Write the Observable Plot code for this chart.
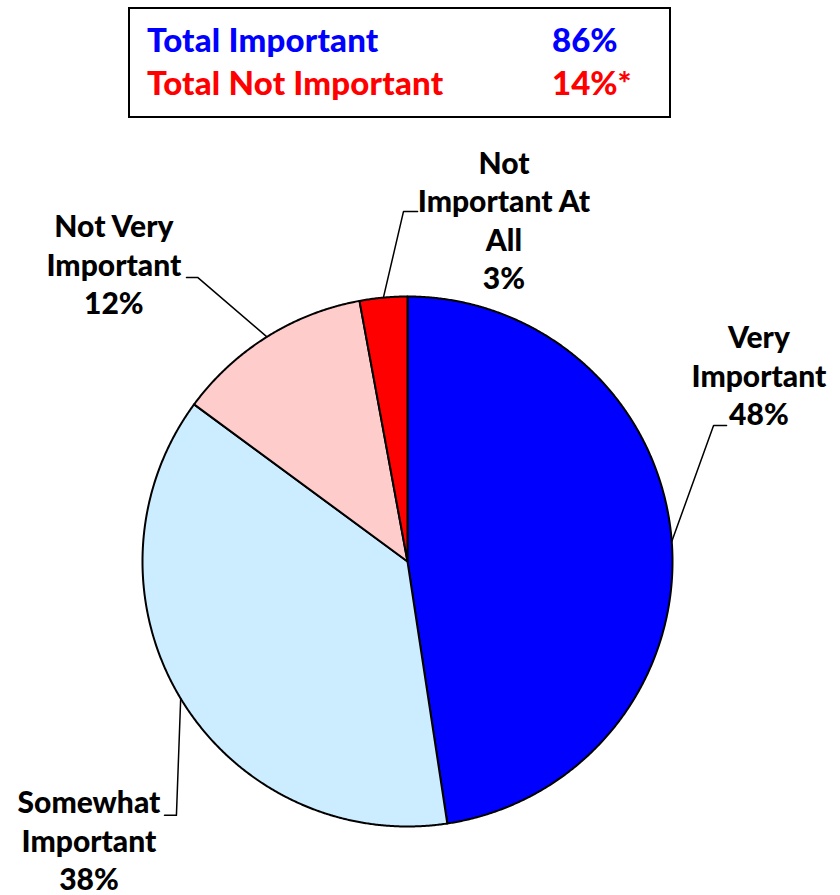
<!DOCTYPE html>
<html>
<head>
<meta charset="utf-8">
<script src="https://cdn.jsdelivr.net/npm/d3@7"></script>
<script src="https://cdn.jsdelivr.net/npm/@observablehq/plot@0.6"></script>
<style>
  html, body { margin: 0; padding: 0; background: #fff; }
  #wrap { position: relative; width: 840px; height: 895px; font-family: Lato, "Open Sans", sans-serif; }
  #legend { position: absolute; left: 128px; top: 7px; width: 543px; height: 111px; box-sizing: border-box;
            border: 2px solid #000; font-weight: 900; font-size: 33px; }
  #legend .row { position: absolute; left: 17px; white-space: nowrap; line-height: 1; letter-spacing: 0.2px; }
  #legend .val { position: absolute; left: 422px; white-space: nowrap; line-height: 1; }
  #chart { position: absolute; left: 0; top: 125px; }
</style>
</head>
<body>
<div id="wrap">
  <div id="legend"></div>
  <div id="chart"></div>
</div>
<script>
// ---- data ----
const categories = ["Very Important", "Somewhat Important", "Not Very Important", "Not Important At All"];
const values = [47.6, 37.5, 12.0, 2.9];
const labelLines = [["Very", "Important"], ["Somewhat", "Important"], ["Not Very", "Important"], ["Not", "Important At", "All"]];
const legendLabels = ["Total Important", "Total Not Important"];
const legendValues = ["86%", "14%*"];

// ---- styles / layout (kept apart from data) ----
const sliceColors = ["#0000FF", "#CCECFF", "#FFCCCC", "#FF0000"];
const legendColors = ["#0000FF", "#FF0000"];
const W = 840, H = 770, R = 265, CX = 407, CY = 436; // pixel layout of pie
// label anchors in pie-radius units: [centerX, firstBaselineY]
const labelAnchor = [[1.326, 0.804], [-1.202, -0.950], [-1.108, 1.223], [0.364, 1.464]];
// leader elbows in pie-radius units: [elbowX, endX, y]
const leaderElbow = [[1.155, 1.204, 0.513], [-0.872, -0.917, -0.958], [-0.792, -0.834, 1.072], [-0.015, 0.038, 1.321]];
const lineStep = 38.5 / R;

// ---- legend ----
const legend = document.getElementById("legend");
legendLabels.forEach((t, i) => {
  const top = 14 + i * 43;
  const a = document.createElement("div");
  a.className = "row"; a.style.top = top + "px"; a.style.color = legendColors[i]; a.textContent = t;
  const b = document.createElement("div");
  b.className = "val"; b.style.top = top + "px"; b.style.color = legendColors[i]; b.textContent = legendValues[i];
  legend.appendChild(a); legend.appendChild(b);
});

// ---- geometry from data ----
const arcs = d3.pie().sort(null).value(d => d)(values);
const slicePts = [];
arcs.forEach((a, i) => {
  slicePts.push({key: categories[i], fill: sliceColors[i], x: 0, y: 0});
  const n = Math.max(4, Math.ceil((a.endAngle - a.startAngle) / 0.005));
  for (let k = 0; k <= n; k++) {
    const t = a.startAngle + (a.endAngle - a.startAngle) * k / n;
    slicePts.push({key: categories[i], fill: sliceColors[i], x: Math.sin(t), y: Math.cos(t)});
  }
});

const leaderPts = [];
arcs.forEach((a, i) => {
  const m = (a.startAngle + a.endAngle) / 2;
  const [ex, endX, ey] = leaderElbow[i];
  leaderPts.push({key: categories[i], x: Math.sin(m), y: Math.cos(m)});
  leaderPts.push({key: categories[i], x: ex, y: ey});
  leaderPts.push({key: categories[i], x: endX, y: ey});
});

const textPts = [];
arcs.forEach((a, i) => {
  const lines = [...labelLines[i], Math.round(values[i]) + "%"];
  lines.forEach((s, j) => {
    textPts.push({x: labelAnchor[i][0], y: labelAnchor[i][1] - j * lineStep, text: s});
  });
});

const chart = Plot.plot({
  width: W, height: H,
  margin: 0,
  x: {domain: [-CX / R, (W - CX) / R], axis: null},
  y: {domain: [-(H - CY) / R, CY / R], axis: null},
  color: {type: "identity"},
  style: {fontFamily: "Lato, 'Open Sans', sans-serif", background: "white"},
  marks: [
    Plot.line(slicePts, {x: "x", y: "y", z: "key", fill: "fill", stroke: "black", strokeWidth: 2, curve: "linear-closed", strokeLinejoin: "round"}),
    Plot.line(leaderPts, {x: "x", y: "y", z: "key", stroke: "black", strokeWidth: 1.5}),
    Plot.text(textPts, {x: "x", y: "y", text: "text", textAnchor: "middle", lineAnchor: "bottom", fontSize: 30, fontWeight: 900, fill: "black"})
  ]
});
document.getElementById("chart").appendChild(chart);
</script>
</body>
</html>
